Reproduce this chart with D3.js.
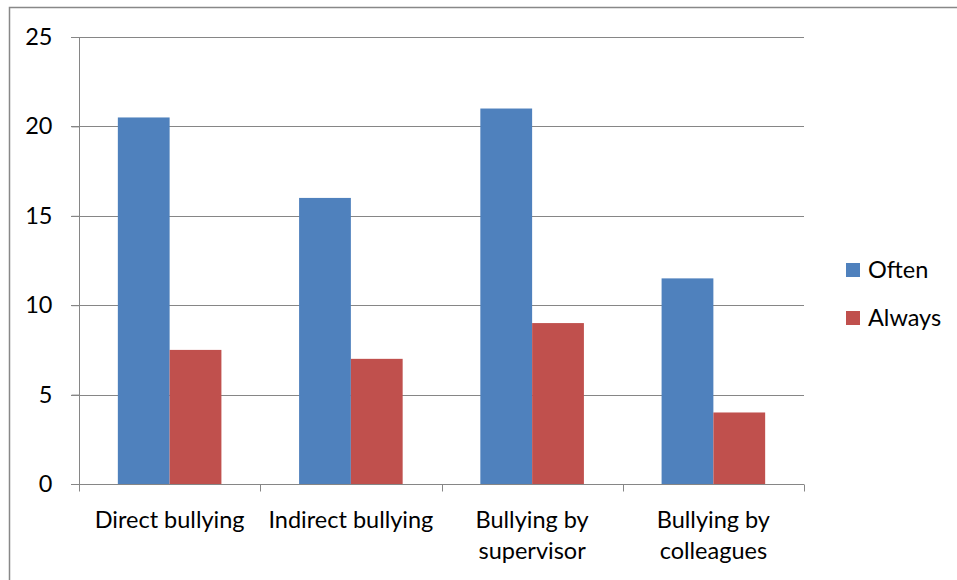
<!DOCTYPE html>
<html><head><meta charset="utf-8">
<script src="https://cdn.jsdelivr.net/npm/d3@7"></script>
<style>body{margin:0;background:#fff}svg{display:block}text{font-family:Lato,"Open Sans",sans-serif;fill:#000}</style>
</head><body><svg id="c" width="957" height="580"></svg>
<script>
const categories = [["Direct bullying"],["Indirect bullying"],["Bullying by","supervisor"],["Bullying by","colleagues"]];
const seriesNames = ["Often","Always"];
const often = [20.5, 16, 21, 11.5];
const always = [7.5, 7, 9, 4];
const yTicks = [0,5,10,15,20,25];
const colors = ["#4F81BD","#C0504D"];
const FS = "23.5px";

const svg = d3.select("#c");
// outer frame
svg.append("rect").attr("x",9.5).attr("y",7.5).attr("width",1000).attr("height",1000)
  .attr("fill","none").attr("stroke","#888").attr("stroke-width",1.5);

const L=79, R=804, T=37, B=484;
const x = d3.scaleBand().domain(d3.range(categories.length)).range([L,R]);
const y = d3.scaleLinear().domain([0,25]).range([B,T]);
const inner = d3.scaleBand().domain([0,1]).range([0, x.bandwidth()]).paddingOuter(0.75).paddingInner(0);

// gridlines
svg.append("g").selectAll("line").data(yTicks.filter(d=>d>0)).join("line")
  .attr("x1",L-8).attr("x2",R).attr("y1",d=>Math.round(y(d))+0.5).attr("y2",d=>Math.round(y(d))+0.5)
  .attr("stroke","#868686").attr("stroke-width",1);

// bars
const data = [often, always];
categories.forEach((c,i)=>{
  data.forEach((s,j)=>{
    svg.append("rect").attr("x",x(i)+inner(j)).attr("width",inner.bandwidth())
      .attr("y",y(s[i])).attr("height",B-y(s[i])).attr("fill",colors[j]);
  });
});

// y axis
const ya = svg.append("g").attr("transform",`translate(${L+0.5},0)`).call(d3.axisLeft(y).tickValues(yTicks).tickSize(8).tickPadding(19));
ya.select(".domain").attr("stroke","#868686").attr("d",`M0,${T}V${B}`);
ya.selectAll(".tick line").attr("stroke","#868686");
ya.selectAll(".tick text").style("font-size",FS).attr("fill","#000");

// x axis
const xa = svg.append("g").attr("transform",`translate(0,${B+0.5})`);
xa.append("line").attr("x1",L-8).attr("x2",R).attr("stroke","#868686");
const tickPos = d3.range(categories.length+1).map(i=> i<categories.length? x(i): R);
xa.selectAll(".t").data(tickPos).join("line").attr("class","t")
  .attr("x1",d=>Math.round(d)+0.5).attr("x2",d=>Math.round(d)+0.5).attr("y1",0).attr("y2",7).attr("stroke","#868686");
categories.forEach((c,i)=>{
  const t = xa.append("text").attr("text-anchor","middle").style("font-size",FS)
    .attr("x",x(i)+x.bandwidth()/2).attr("y",43);
  c.forEach((line,k)=> t.append("tspan").attr("x",x(i)+x.bandwidth()/2).attr("dy",k?31:0).text(line));
});

// legend
seriesNames.forEach((n,j)=>{
  const gy = 270 + j*48;
  svg.append("rect").attr("x",846).attr("y",gy-7).attr("width",14).attr("height",14).attr("fill",colors[j]);
  svg.append("text").attr("x",868).attr("y",gy+8).style("font-size",FS).text(n);
});
</script></body></html>
